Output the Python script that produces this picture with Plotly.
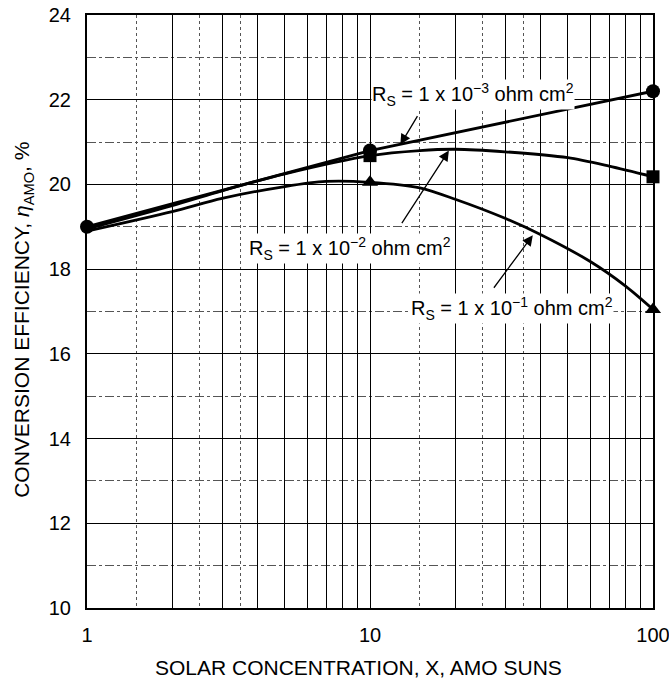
import plotly.graph_objects as go
import math

# ---- data ----
x_rs3 = [1, 10, 100]
y_rs3 = [19.0, 20.8, 22.2]

x_rs2 = [1, 2, 3, 5, 10, 15, 20, 30, 50, 70, 100]
y_rs2 = [18.95, 19.5, 19.85, 20.25, 20.68, 20.8, 20.83, 20.77, 20.63, 20.43, 20.18]

x_rs1 = [1, 2, 3, 5, 7, 10, 15, 20, 30, 40, 60, 80, 100]
y_rs1 = [18.9, 19.36, 19.67, 19.95, 20.07, 20.05, 19.92, 19.65, 19.2, 18.82, 18.18, 17.6, 17.05]

marker_x_circle = [1, 10, 100]
marker_y_circle = [19.0, 20.8, 22.2]
marker_x_square = [10, 100]
marker_y_square = [20.68, 20.18]
marker_x_tri = [10, 100]
marker_y_tri = [20.05, 17.05]

x_major = [1, 2, 3, 4, 5, 6, 7, 8, 9, 10, 20, 30, 40, 50, 60, 70, 80, 90, 100]
x_labels = {1: "1", 10: "10", 100: "100"}
x_minor = [1.5, 2.5, 3.5, 15, 25, 35]
y_major = [10, 12, 14, 16, 18, 20, 22, 24]

x_title = "SOLAR CONCENTRATION, X, AMO SUNS"
y_title = "CONVERSION EFFICIENCY, <i>η</i><sub>AMO</sub>, %"

labels = [
    ("R<sub>S</sub> = 1 x 10<sup>−3</sup> ohm cm<sup>2</sup>", 23.1, 22.12),
    ("R<sub>S</sub> = 1 x 10<sup>−2</sup> ohm cm<sup>2</sup>", 8.53, 18.49),
    ("R<sub>S</sub> = 1 x 10<sup>−1</sup> ohm cm<sup>2</sup>", 31.7, 17.08),
]
arrows = [  # head x, head y, tail offset px
    (12.8, 20.94, 18, -30),
    (19.0, 20.8, -48, 74),
    (37.6, 18.8, -40, 54),
]

FONT = "Liberation Sans, Arial, sans-serif"

fig = go.Figure()
fig.add_trace(go.Scatter(x=x_rs3, y=y_rs3, mode="lines", line=dict(color="black", width=2.8), showlegend=False))
fig.add_trace(go.Scatter(x=x_rs2, y=y_rs2, mode="lines", line=dict(color="black", width=2.8, shape="spline", smoothing=0.8), showlegend=False))
fig.add_trace(go.Scatter(x=x_rs1, y=y_rs1, mode="lines", line=dict(color="black", width=2.8, shape="spline", smoothing=0.8), showlegend=False))
fig.add_trace(go.Scatter(x=marker_x_circle, y=marker_y_circle, mode="markers",
                         marker=dict(symbol="circle", size=14, color="black"), cliponaxis=False, showlegend=False))
fig.add_trace(go.Scatter(x=marker_x_square, y=marker_y_square, mode="markers",
                         marker=dict(symbol="square", size=13, color="black"), cliponaxis=False, showlegend=False))
fig.add_trace(go.Scatter(x=marker_x_tri, y=marker_y_tri, mode="markers",
                         marker=dict(symbol="triangle-up", size=14, color="black"), cliponaxis=False, showlegend=False))

for txt, xv, yv in labels:
    fig.add_annotation(x=math.log10(xv), y=yv, text=txt, showarrow=False,
                       font=dict(family=FONT, size=20, color="black"), bgcolor="white", borderpad=0)
for hx, hy, ax, ay in arrows:
    fig.add_annotation(x=math.log10(hx), y=hy, text="", showarrow=True, ax=ax, ay=ay,
                       arrowhead=2, arrowsize=1.6, arrowwidth=1.3, arrowcolor="black")

# axis titles placed as annotations (paper coordinates)
fig.add_annotation(xref="paper", yref="paper", x=0.48, y=-0.10, yanchor="middle", xanchor="center",
                   text=x_title, showarrow=False, font=dict(family=FONT, size=21, color="black"))
fig.add_annotation(xref="paper", yref="paper", x=-0.113, y=0.486, xanchor="center", yanchor="middle",
                   textangle=-90, text=y_title, showarrow=False, font=dict(family=FONT, size=21, color="black"))

fig.update_xaxes(type="log", range=[0, 2],
                 tickvals=x_major, ticktext=[x_labels.get(v, "") for v in x_major],
                 showgrid=True, gridcolor="black", gridwidth=1.3,
                 minor=dict(tickvals=x_minor, showgrid=True, gridcolor="#555", griddash="dot", gridwidth=1.2, ticks=""),
                 showline=True, linecolor="black", linewidth=2, mirror=True, ticks="",
                 tickfont=dict(family=FONT, size=20, color="black"), ticklabelstandoff=8,
                 ticklabeloverflow="allow", automargin=False, zeroline=False)
fig.update_yaxes(range=[10, 24], tickvals=y_major,
                 showgrid=True, gridcolor="black", gridwidth=1.3,
                 minor=dict(dtick=1, showgrid=True, gridcolor="#555", griddash="dashdot", gridwidth=1.1, ticks=""),
                 showline=True, linecolor="black", linewidth=2, mirror=True, ticks="",
                 tickfont=dict(family=FONT, size=20, color="black"), ticklabelstandoff=10,
                 automargin=False, zeroline=False)

fig.update_layout(width=669, height=682, margin=dict(l=87, r=16, t=15, b=74),
                  plot_bgcolor="white", paper_bgcolor="white", showlegend=False)

fig.write_html("out.html")
